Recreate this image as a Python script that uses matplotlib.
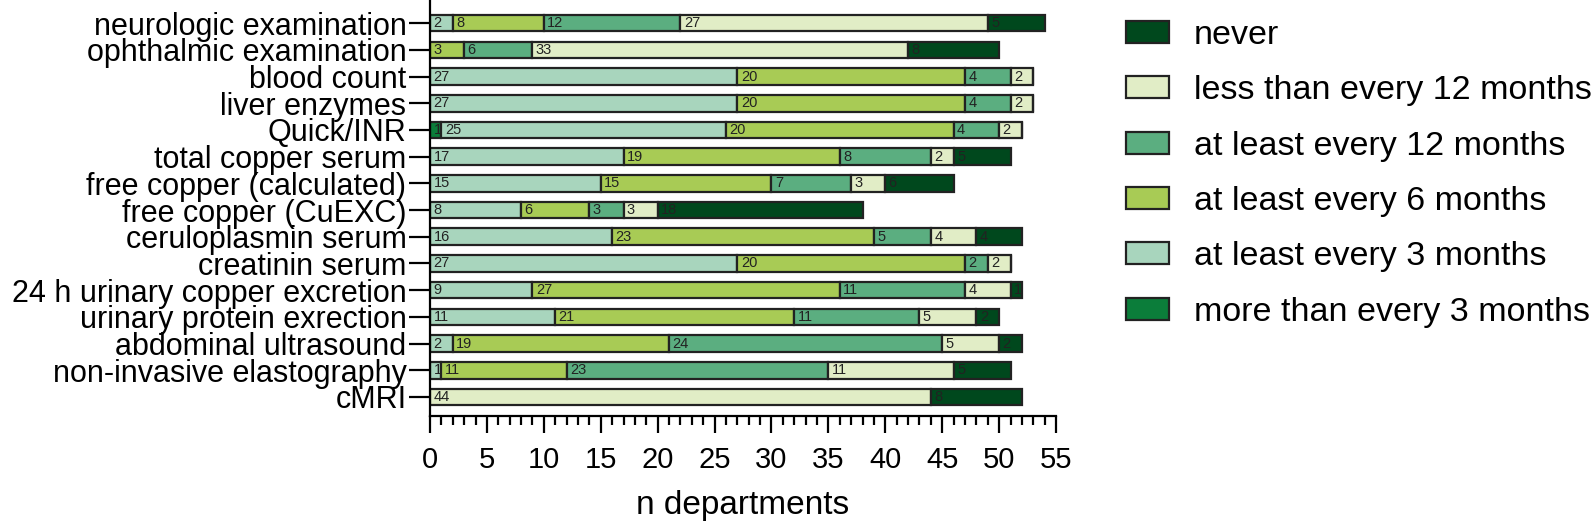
import matplotlib
matplotlib.use('Agg')
import matplotlib.pyplot as plt
from matplotlib.patches import Patch
from matplotlib.ticker import MultipleLocator

plt.rcParams['font.family'] = ['Liberation Sans', 'DejaVu Sans']

items = ['neurologic examination', 'ophthalmic examination', 'blood count',
         'liver enzymes', 'Quick/INR', 'total copper serum',
         'free copper (calculated)', 'free copper (CuEXC)', 'ceruloplasmin serum',
         'creatinin serum', '24 h urinary copper excretion',
         'urinary protein exrection', 'abdominal ultrasound',
         'non-invasive elastography', 'cMRI']

categories = ['more than every 3 months', 'at least every 3 months',
              'at least every 6 months', 'at least every 12 months',
              'less than every 12 months', 'never']

more3 = [0, 0, 0, 0, 1, 0, 0, 0, 0, 0, 0, 0, 0, 0, 0]
least3 = [2, 0, 27, 27, 25, 17, 15, 8, 16, 27, 9, 11, 2, 1, 0]
least6 = [8, 3, 20, 20, 20, 19, 15, 6, 23, 20, 27, 21, 19, 11, 0]
least12 = [12, 6, 4, 4, 4, 8, 7, 3, 5, 2, 11, 11, 24, 23, 0]
less12 = [27, 33, 2, 2, 2, 2, 3, 3, 4, 2, 4, 5, 5, 11, 44]
never = [5, 8, 0, 0, 0, 5, 6, 18, 4, 0, 1, 2, 2, 5, 8]

series = [more3, least3, least6, least12, less12, never]
colors = ['#0b7d3a', '#a8d5bd', '#a8cb55', '#5bae80', '#e1edc6', '#00481d']

fig = plt.figure(figsize=(15.94, 5.24), dpi=100)
ax = fig.add_axes([0.2698, 0.2067, 0.3927, 0.793])

y = list(range(len(items)))
left = [0] * len(items)
for vals, col in zip(series, colors):
    ax.barh(y, vals, left=left, height=0.62, color=col,
            edgecolor='#222222', linewidth=1.6)
    for i, v in enumerate(vals):
        if v > 0:
            ax.text(left[i] + 0.3, y[i], str(v), ha='left', va='center',
                    fontsize=10.5, color='#222222')
    left = [a + b for a, b in zip(left, vals)]

ax.set_xlim(0, 55)
ax.set_ylim(14.7, -0.86)
ax.set_yticks(y)
ax.set_yticklabels(items, fontsize=22)
ax.xaxis.set_major_locator(MultipleLocator(5))
ax.xaxis.set_minor_locator(MultipleLocator(1))
ax.tick_params(axis='x', which='major', length=12, width=1.6, labelsize=21, pad=9.5)
ax.tick_params(axis='x', which='minor', length=6.5, width=1.6)
ax.tick_params(axis='y', length=15, width=1.6, pad=2)
ax.set_xlabel('n departments', fontsize=24, labelpad=11.5)
for s in ['top', 'right']:
    ax.spines[s].set_visible(False)
for s in ['left', 'bottom']:
    ax.spines[s].set_linewidth(1.6)

handles = [Patch(facecolor=c, edgecolor='#222222', linewidth=1.6, label=l)
           for c, l in zip(colors, categories)]
fig.legend(handles[::-1], categories[::-1], loc='upper left',
           bbox_to_anchor=(0.7064, 0.962), frameon=False, fontsize=24.5,
           borderpad=0, borderaxespad=0,
           handlelength=1.26, handleheight=0.62, labelspacing=0.715,
           handletextpad=0.73)

fig.savefig('out.png', dpi=100)
